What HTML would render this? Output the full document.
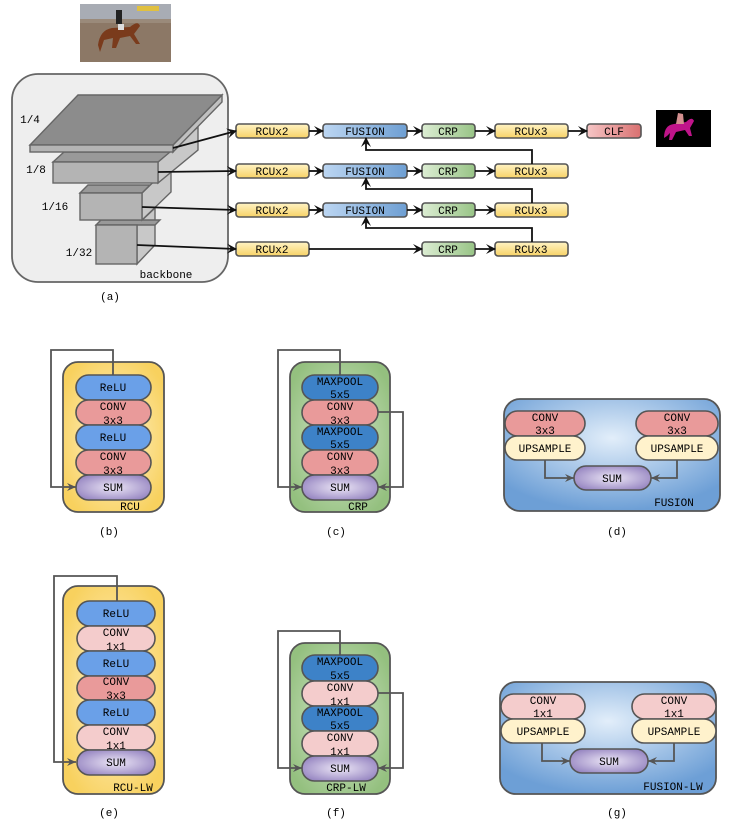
<!DOCTYPE html>
<html><head><meta charset="utf-8"><style>
html,body{margin:0;padding:0;background:#fff;}
svg{display:block;}
text{font-family:"Liberation Mono",monospace;font-size:11px;fill:#000;text-anchor:middle;}
.s{stroke:#555;stroke-width:1.6;}
.l{stroke:#111;stroke-width:1.8;fill:none;}
.g{stroke:#555;stroke-width:1.8;fill:none;}
</style></head><body>
<svg width="735" height="821" viewBox="0 0 735 821" xmlns="http://www.w3.org/2000/svg">
<defs>
<linearGradient id="yb" x1="0" y1="0" x2="0" y2="1"><stop offset="0" stop-color="#fff3c4"/><stop offset="1" stop-color="#f7d266"/></linearGradient>
<linearGradient id="bb" x1="0" y1="0" x2="1" y2="0"><stop offset="0" stop-color="#bcd6f2"/><stop offset="1" stop-color="#6e9fd3"/></linearGradient>
<linearGradient id="gb" x1="0" y1="0" x2="1" y2="0"><stop offset="0" stop-color="#dcedd3"/><stop offset="1" stop-color="#98c486"/></linearGradient>
<linearGradient id="rb" x1="0" y1="0" x2="1" y2="0"><stop offset="0" stop-color="#f6c6c6"/><stop offset="1" stop-color="#d97070"/></linearGradient>
<radialGradient id="yo" cx="0.5" cy="0.5" r="0.6"><stop offset="0" stop-color="#fff3cf"/><stop offset="1" stop-color="#f8d15e"/></radialGradient>
<radialGradient id="go" cx="0.5" cy="0.5" r="0.6"><stop offset="0" stop-color="#d5e8cc"/><stop offset="1" stop-color="#94c07f"/></radialGradient>
<radialGradient id="bo" cx="0.5" cy="0.35" r="0.65"><stop offset="0" stop-color="#e2eefa"/><stop offset="1" stop-color="#6d9fd6"/></radialGradient>
<radialGradient id="su" cx="0.5" cy="0.5" r="0.6"><stop offset="0" stop-color="#ece6f6"/><stop offset="1" stop-color="#9483c0"/></radialGradient>
<marker id="ab" markerWidth="10" markerHeight="10" refX="9" refY="5" orient="auto" markerUnits="userSpaceOnUse"><path d="M0,0 L10,5 L0,10 L4,5z" fill="#111"/></marker>
<marker id="ag" markerWidth="10" markerHeight="10" refX="9" refY="5" orient="auto" markerUnits="userSpaceOnUse"><path d="M0,1 L9,5 L0,9 L3,5z" fill="#555"/></marker>
</defs>

<!-- photo -->
<rect x="80" y="4" width="91" height="58" fill="#8c7866"/>
<rect x="80" y="4" width="91" height="15" fill="#a8acb4"/>
<rect x="80" y="19" width="91" height="4" fill="#9a8a7a"/>
<rect x="137" y="6" width="22" height="5" fill="#e0c040"/>
<path d="M98,45 Q100,30 112,28 L130,27 Q138,20 140,26 L134,34 L140,44 L136,44 L130,36 L120,38 L116,48 L112,48 L113,38 L104,40 L100,52 Z" fill="#7a3b1c"/>
<rect x="116" y="10" width="6" height="14" fill="#222"/>
<rect x="118" y="24" width="6" height="6" fill="#ddd"/>
<!-- seg -->
<rect x="656" y="110" width="55" height="37" fill="#000"/>
<path d="M664,138 Q664,125 674,124 L686,122 Q692,116 694,121 L690,128 L692,136 L689,136 L685,130 L676,132 L672,140 L669,140 L670,133 L667,136 Z" fill="#c0148a"/>
<path d="M676,124 L678,113 L683,114 L684,124 Z" fill="#d49090"/>

<!-- backbone -->
<rect x="12" y="74" width="216" height="208" rx="26" fill="#eeeeee" stroke="#666" stroke-width="1.8"/>
<g stroke="#666" stroke-width="1.4">
<polygon points="137,225 155,208 155,245 137,264" fill="#c8c8c8"/>
<polygon points="96,225 101,220 160,220 155,225" fill="#999"/>
<rect x="96" y="225" width="41" height="39" fill="#b4b4b4"/>
<polygon points="142,193 171,165 171,192 142,220" fill="#c8c8c8"/>
<polygon points="80,193 88,185 150,185 142,193" fill="#999"/>
<rect x="80" y="193" width="62" height="27" fill="#b4b4b4"/>
<polygon points="158,162 198,127 198,150 158,183" fill="#c8c8c8"/>
<polygon points="53,162 64,152 170,152 158,162" fill="#999"/>
<rect x="53" y="162" width="105" height="21" fill="#b4b4b4"/>
<polygon points="173,145 222,95 222,102 173,152" fill="#c0c0c0"/>
<polygon points="30,145 78,95 222,95 173,145" fill="#8c8c8c"/>
<rect x="30" y="145" width="143" height="7" fill="#b4b4b4"/>
</g>
<text x="30" y="123">1/4</text>
<text x="36" y="173">1/8</text>
<text x="55" y="210">1/16</text>
<text x="79" y="256">1/32</text>
<text x="166" y="278">backbone</text>
<text x="110" y="300">(a)</text>

<!-- pipeline -->
<g class="s">
<rect x="236" y="124" width="73" height="14" rx="3" fill="url(#yb)"/>
<rect x="236" y="164" width="73" height="14" rx="3" fill="url(#yb)"/>
<rect x="236" y="203" width="73" height="14" rx="3" fill="url(#yb)"/>
<rect x="236" y="242" width="73" height="14" rx="3" fill="url(#yb)"/>
<rect x="323" y="124" width="84" height="14" rx="3" fill="url(#bb)"/>
<rect x="323" y="164" width="84" height="14" rx="3" fill="url(#bb)"/>
<rect x="323" y="203" width="84" height="14" rx="3" fill="url(#bb)"/>
<rect x="422" y="124" width="53" height="14" rx="3" fill="url(#gb)"/>
<rect x="422" y="164" width="53" height="14" rx="3" fill="url(#gb)"/>
<rect x="422" y="203" width="53" height="14" rx="3" fill="url(#gb)"/>
<rect x="422" y="242" width="53" height="14" rx="3" fill="url(#gb)"/>
<rect x="495" y="124" width="73" height="14" rx="3" fill="url(#yb)"/>
<rect x="495" y="164" width="73" height="14" rx="3" fill="url(#yb)"/>
<rect x="495" y="203" width="73" height="14" rx="3" fill="url(#yb)"/>
<rect x="495" y="242" width="73" height="14" rx="3" fill="url(#yb)"/>
<rect x="587" y="124" width="54" height="14" rx="3" fill="url(#rb)"/>
</g>
<g>
<text x="272" y="135">RCUx2</text><text x="272" y="175">RCUx2</text><text x="272" y="214">RCUx2</text><text x="272" y="253">RCUx2</text>
<text x="365" y="135">FUSION</text><text x="365" y="175">FUSION</text><text x="365" y="214">FUSION</text>
<text x="448" y="135">CRP</text><text x="448" y="175">CRP</text><text x="448" y="214">CRP</text><text x="448" y="253">CRP</text>
<text x="531" y="135">RCUx3</text><text x="531" y="175">RCUx3</text><text x="531" y="214">RCUx3</text><text x="531" y="253">RCUx3</text>
<text x="614" y="135">CLF</text>
</g>
<g class="l" marker-end="url(#ab)">
<line x1="173" y1="148" x2="236" y2="131"/>
<line x1="158" y1="172" x2="236" y2="171"/>
<line x1="142" y1="207" x2="236" y2="210"/>
<line x1="137" y1="245" x2="236" y2="249"/>
<line x1="309" y1="131" x2="323" y2="131"/><line x1="309" y1="171" x2="323" y2="171"/><line x1="309" y1="210" x2="323" y2="210"/>
<line x1="407" y1="131" x2="422" y2="131"/><line x1="407" y1="171" x2="422" y2="171"/><line x1="407" y1="210" x2="422" y2="210"/>
<line x1="309" y1="249" x2="422" y2="249"/>
<line x1="475" y1="131" x2="495" y2="131"/><line x1="475" y1="171" x2="495" y2="171"/><line x1="475" y1="210" x2="495" y2="210"/><line x1="475" y1="249" x2="495" y2="249"/>
<line x1="568" y1="131" x2="587" y2="131"/>
<polyline points="532,164 532,150 366,150 366,138"/>
<polyline points="532,203 532,189 366,189 366,178"/>
<polyline points="532,242 532,228 366,228 366,217"/>
</g>

<!-- (b) RCU -->
<rect x="63" y="362" width="101" height="150" rx="15" fill="url(#yo)" stroke="#555" stroke-width="1.8"/>
<polyline class="g" points="113,375 113,350 51,350 51,487 76,487" marker-end="url(#ag)"/>
<g class="s">
<rect x="76" y="375" width="75" height="25" rx="12.5" fill="#6aa0e8"/>
<rect x="76" y="400" width="75" height="25" rx="12.5" fill="#e99a9a"/>
<rect x="76" y="425" width="75" height="25" rx="12.5" fill="#6aa0e8"/>
<rect x="76" y="450" width="75" height="25" rx="12.5" fill="#e99a9a"/>
<rect x="76" y="475" width="75" height="25" rx="12.5" fill="url(#su)"/>
</g>
<text x="113" y="391">ReLU</text><text x="113" y="410">CONV</text><text x="113" y="424">3x3</text>
<text x="113" y="441">ReLU</text><text x="113" y="460">CONV</text><text x="113" y="474">3x3</text>
<text x="113" y="491">SUM</text>
<text x="130" y="510">RCU</text>
<text x="109" y="535">(b)</text>

<!-- (c) CRP -->
<rect x="290" y="362" width="100" height="150" rx="15" fill="url(#go)" stroke="#555" stroke-width="1.8"/>
<polyline class="g" points="340,375 340,350 278,350 278,487 302,487" marker-end="url(#ag)"/>
<polyline class="g" points="378,412 403,412 403,487 378,487" marker-end="url(#ag)"/>
<g class="s">
<rect x="302" y="375" width="76" height="25" rx="12.5" fill="#3d82c8"/>
<rect x="302" y="400" width="76" height="25" rx="12.5" fill="#e99a9a"/>
<rect x="302" y="425" width="76" height="25" rx="12.5" fill="#3d82c8"/>
<rect x="302" y="450" width="76" height="25" rx="12.5" fill="#e99a9a"/>
<rect x="302" y="475" width="76" height="25" rx="12.5" fill="url(#su)"/>
</g>
<text x="340" y="385">MAXPOOL</text><text x="340" y="398">5x5</text>
<text x="340" y="410">CONV</text><text x="340" y="424">3x3</text>
<text x="340" y="435">MAXPOOL</text><text x="340" y="448">5x5</text>
<text x="340" y="460">CONV</text><text x="340" y="474">3x3</text>
<text x="340" y="491">SUM</text>
<text x="358" y="510">CRP</text>
<text x="336" y="535">(c)</text>

<!-- (d) FUSION -->
<rect x="504" y="399" width="216" height="112" rx="16" fill="url(#bo)" stroke="#555" stroke-width="1.8"/>
<polyline class="g" points="545,460 545,478 574,478" marker-end="url(#ag)"/>
<polyline class="g" points="677,460 677,478 651,478" marker-end="url(#ag)"/>
<g class="s">
<rect x="505" y="411" width="80" height="25" rx="12.5" fill="#e99a9a"/>
<rect x="505" y="436" width="80" height="24" rx="12" fill="#fff2cc"/>
<rect x="636" y="411" width="82" height="25" rx="12.5" fill="#e99a9a"/>
<rect x="636" y="436" width="82" height="24" rx="12" fill="#fff2cc"/>
<rect x="574" y="466" width="77" height="24" rx="12" fill="url(#su)"/>
</g>
<text x="545" y="421">CONV</text><text x="545" y="434">3x3</text><text x="545" y="452">UPSAMPLE</text>
<text x="677" y="421">CONV</text><text x="677" y="434">3x3</text><text x="677" y="452">UPSAMPLE</text>
<text x="612" y="482">SUM</text>
<text x="674" y="506">FUSION</text>
<text x="617" y="535">(d)</text>

<!-- (e) RCU-LW -->
<rect x="63" y="586" width="101" height="208" rx="15" fill="url(#yo)" stroke="#555" stroke-width="1.8"/>
<polyline class="g" points="117,601 117,576 54,576 54,762 76,762" marker-end="url(#ag)"/>
<g class="s">
<rect x="77" y="601" width="78" height="25" rx="12.5" fill="#6aa0e8"/>
<rect x="77" y="626" width="78" height="25" rx="12.5" fill="#f4cccc"/>
<rect x="77" y="651" width="78" height="25" rx="12.5" fill="#6aa0e8"/>
<rect x="77" y="676" width="78" height="24" rx="12" fill="#e99a9a"/>
<rect x="77" y="700" width="78" height="25" rx="12.5" fill="#6aa0e8"/>
<rect x="77" y="725" width="78" height="25" rx="12.5" fill="#f4cccc"/>
<rect x="77" y="750" width="78" height="25" rx="12.5" fill="url(#su)"/>
</g>
<text x="116" y="617">ReLU</text><text x="116" y="636">CONV</text><text x="116" y="650">1x1</text>
<text x="116" y="667">ReLU</text><text x="116" y="685">CONV</text><text x="116" y="699">3x3</text>
<text x="116" y="716">ReLU</text><text x="116" y="735">CONV</text><text x="116" y="749">1x1</text>
<text x="116" y="766">SUM</text>
<text x="133" y="791">RCU-LW</text>
<text x="109" y="816">(e)</text>

<!-- (f) CRP-LW -->
<rect x="290" y="643" width="100" height="151" rx="15" fill="url(#go)" stroke="#555" stroke-width="1.8"/>
<polyline class="g" points="340,655 340,631 278,631 278,768 302,768" marker-end="url(#ag)"/>
<polyline class="g" points="378,693 403,693 403,768 378,768" marker-end="url(#ag)"/>
<g class="s">
<rect x="302" y="655" width="76" height="26" rx="13" fill="#3d82c8"/>
<rect x="302" y="681" width="76" height="25" rx="12.5" fill="#f4cccc"/>
<rect x="302" y="706" width="76" height="25" rx="12.5" fill="#3d82c8"/>
<rect x="302" y="731" width="76" height="25" rx="12.5" fill="#f4cccc"/>
<rect x="302" y="756" width="76" height="25" rx="12.5" fill="url(#su)"/>
</g>
<text x="340" y="665">MAXPOOL</text><text x="340" y="679">5x5</text>
<text x="340" y="691">CONV</text><text x="340" y="705">1x1</text>
<text x="340" y="716">MAXPOOL</text><text x="340" y="729">5x5</text>
<text x="340" y="741">CONV</text><text x="340" y="755">1x1</text>
<text x="340" y="772">SUM</text>
<text x="346" y="791">CRP-LW</text>
<text x="336" y="816">(f)</text>

<!-- (g) FUSION-LW -->
<rect x="500" y="682" width="216" height="112" rx="16" fill="url(#bo)" stroke="#555" stroke-width="1.8"/>
<polyline class="g" points="542,743 542,761 570,761" marker-end="url(#ag)"/>
<polyline class="g" points="674,743 674,761 648,761" marker-end="url(#ag)"/>
<g class="s">
<rect x="501" y="694" width="84" height="25" rx="12.5" fill="#f4cccc"/>
<rect x="501" y="719" width="84" height="24" rx="12" fill="#fff2cc"/>
<rect x="632" y="694" width="84" height="25" rx="12.5" fill="#f4cccc"/>
<rect x="632" y="719" width="84" height="24" rx="12" fill="#fff2cc"/>
<rect x="570" y="749" width="78" height="24" rx="12" fill="url(#su)"/>
</g>
<text x="543" y="704">CONV</text><text x="543" y="717">1x1</text><text x="543" y="735">UPSAMPLE</text>
<text x="674" y="704">CONV</text><text x="674" y="717">1x1</text><text x="674" y="735">UPSAMPLE</text>
<text x="609" y="765">SUM</text>
<text x="673" y="790">FUSION-LW</text>
<text x="617" y="816">(g)</text>
</svg>
</body></html>
